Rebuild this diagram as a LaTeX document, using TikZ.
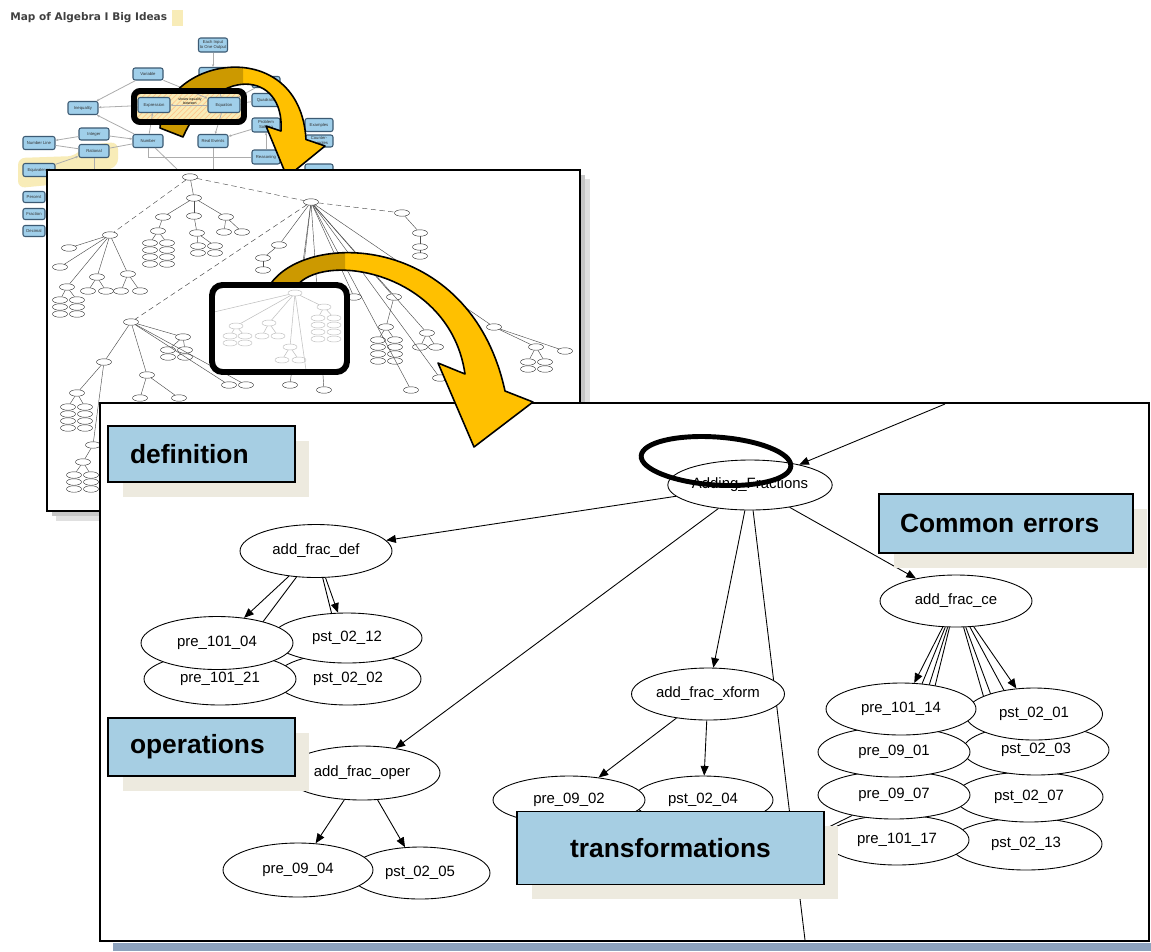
\documentclass[tikz,border=0pt]{standalone}
\usepackage{fontspec}
\setmainfont{Liberation Sans}
\newfontfamily\titlefont{DejaVu Sans}
\usetikzlibrary{arrows.meta, calc, positioning, shapes.geometric, shadows, patterns}
\definecolor{tagblue}{RGB}{166,206,227}
\definecolor{tagshade}{RGB}{237,234,223}
\definecolor{mapblue}{RGB}{160,207,234}
\definecolor{mapedge}{RGB}{60,90,115}
\definecolor{mapyellow}{RGB}{248,236,184}
\definecolor{arrowgold}{RGB}{255,192,0}
\definecolor{arrowdark}{RGB}{204,153,0}
\definecolor{barblue}{RGB}{141,162,189}
\pgfdeclarelayer{bg}
\pgfdeclarelayer{edgelayer}
\pgfsetlayers{bg,edgelayer,main}

\begin{document}
\begin{tikzpicture}[x=0.02cm, y=-0.02cm,
    mapbox/.style={draw=mapedge, fill=mapblue, rounded corners=1.2pt, line width=0.6pt, inner sep=0pt, align=center, text=black!80, font=\fontsize{2.4}{2.8}\selectfont},
    mapline/.style={draw=gray!65, line width=0.45pt},
    mini/.style={draw=black!80, ellipse, fill=white, line width=0.25pt, inner sep=0pt, minimum width=0.3cm, minimum height=0.13cm},
    miniline/.style={draw=black!70, line width=0.25pt},
    faint/.style={draw=gray!55, ellipse, fill=white, line width=0.25pt, inner sep=0pt, minimum width=0.28cm, minimum height=0.12cm},
    faintline/.style={draw=gray!50, line width=0.3pt},
    gv/.style={draw, ellipse, fill=white, line width=0.5pt, inner sep=0pt, font=\fontsize{8.5}{10}\selectfont, minimum width=3cm, minimum height=1.04cm},
    gvedge/.style={draw, line width=0.5pt, -{Triangle[length=5.5pt, width=4.5pt]}},
    gvline/.style={draw, line width=0.5pt},
    tag/.style={draw=black, line width=1pt, fill=tagblue, inner ysep=0pt, font=\fontsize{15}{18}\selectfont\bfseries,
        drop shadow={shadow xshift=0.29cm, shadow yshift=-0.29cm, fill=tagshade, opacity=1}},
    goldarrow/.style={draw=black, line width=0.9pt, line join=round}]

\begin{pgfonlayer}{bg}
    \fill[white] (0,0) rectangle (1151,951);
    \useasboundingbox (0,0) rectangle (1151,951);

    % concept map in the back
    \node[anchor=west, inner sep=0pt, text=black!75, font=\titlefont\bfseries\fontsize{6}{7}\selectfont] (title) at (10,18) {Map of Algebra I Big Ideas};
    \node[fill=mapyellow, minimum width=0.22cm, minimum height=0.32cm, inner sep=0pt] (sticky) at (177.5,18) {};

    \fill[mapyellow, rounded corners=4pt] (18,158) -- (75,156) -- (85,145) -- (118,142) -- (118,166) -- (70,183) -- (18,188) -- cycle;
    \fill[mapyellow] (134,91) rectangle (244,122);
    \fill[pattern=north east lines, pattern color=orange!45] (134,91) rectangle (244,122);

    \node[mapbox, minimum width=0.58cm, minimum height=0.28cm] (eachin) at (213,45) {Each Input\\to One Output};
    \node[mapbox, minimum width=0.56cm, minimum height=0.22cm] (func) at (213,73) {};
    \node[mapbox, minimum width=0.6cm, minimum height=0.24cm] (variable) at (148,74) {Variable};
    \node[mapbox, minimum width=0.64cm, minimum height=0.3cm] (expr) at (154,105) {Expression};
    \node[mapbox, minimum width=0.64cm, minimum height=0.3cm] (eqn) at (224,105) {Equation};
    \node[mapbox, minimum width=0.6cm, minimum height=0.26cm] (ineq) at (83,108) {Inequality};
    \node[mapbox, minimum width=0.6cm, minimum height=0.24cm] (integer) at (94,134) {Integer};
    \node[mapbox, minimum width=0.6cm, minimum height=0.26cm] (rational) at (94,151) {Rational};
    \node[mapbox, minimum width=0.64cm, minimum height=0.26cm] (numline) at (39,143) {Number Line};
    \node[mapbox, minimum width=0.6cm, minimum height=0.26cm] (number) at (148,141) {Number};
    \node[mapbox, minimum width=0.6cm, minimum height=0.26cm] (realev) at (213,141) {Real Events};
    \node[mapbox, minimum width=0.56cm, minimum height=0.22cm] (linear) at (266,82) {};
    \node[mapbox, minimum width=0.56cm, minimum height=0.26cm] (quadratic) at (266,100) {Quadratic};
    \node[mapbox, minimum width=0.56cm, minimum height=0.28cm] (probsolve) at (266,125) {Problem\\Solving};
    \node[mapbox, minimum width=0.56cm, minimum height=0.28cm] (reasoning) at (266,157) {Reasoning};
    \node[mapbox, minimum width=0.56cm, minimum height=0.26cm] (examples) at (319,125) {Examples};
    \node[mapbox, minimum width=0.56cm, minimum height=0.24cm] (counter) at (319,141) {Counter-\\examples};
    \node[mapbox, minimum width=0.56cm, minimum height=0.24cm] (extra) at (319,170) {};
    \node[mapbox, minimum width=0.64cm, minimum height=0.26cm] (equiv) at (39,170) {Equivalence};
    \node[mapbox, minimum width=0.44cm, minimum height=0.22cm] (percent) at (34,197) {Percent};
    \node[mapbox, minimum width=0.44cm, minimum height=0.22cm] (fraction) at (34,214) {Fraction};
    \node[mapbox, minimum width=0.44cm, minimum height=0.22cm] (decimal) at (34,231) {Decimal};
    \node[font=\fontsize{2}{2.4}\selectfont, align=center, inner sep=0pt] (eqlabel) at (190,101) {shows equality\\between};

    \coordinate (cmdown1) at (180,172);
    \coordinate (cmdown2) at (213,172);
    \coordinate (cmdown3) at (94,172);
    \draw[mapline, -{Stealth[length=1.6pt, width=1.3pt]}] (variable) -- (ineq);
    \draw[mapline, -{Stealth[length=1.6pt, width=1.3pt]}] (variable) -- (eqn);
    \draw[mapline, -{Stealth[length=1.6pt, width=1.3pt]}] (expr) -- (ineq);
    \draw[mapline, -{Stealth[length=1.6pt, width=1.3pt]}] (number) -- (ineq);
    \draw[mapline, -{Stealth[length=1.6pt, width=1.3pt]}] (number) -- (expr);
    \draw[mapline, -{Stealth[length=1.6pt, width=1.3pt]}] (eqn) -- (expr);
    \draw[mapline, -{Stealth[length=1.6pt, width=1.3pt]}] (integer) -- (number);
    \draw[mapline] (rational) -- (number);
    \draw[mapline, -{Stealth[length=1.6pt, width=1.3pt]}] (integer) -- (numline);
    \draw[mapline] (rational) -- (numline);
    \draw[mapline, -{Stealth[length=1.6pt, width=1.3pt]}] (equiv) -- (rational);
    \draw[mapline, -{Stealth[length=1.6pt, width=1.3pt]}] (probsolve) -- (realev);
    \draw[mapline, -{Stealth[length=1.6pt, width=1.3pt]}] (eqn) -- (realev);
    \draw[mapline, -{Stealth[length=1.6pt, width=1.3pt]}] (eachin) -- (func);
    \draw[mapline] (func) -- (eqn);
    \draw[mapline, -{Stealth[length=1.6pt, width=1.3pt]}] (reasoning) -- (probsolve);
    \draw[mapline] (number) |- (reasoning);
    \draw[mapline] (number) -- (cmdown1);
    \draw[mapline] (realev) -- (cmdown2);
    \draw[mapline] (rational) -- (cmdown3);
    \draw[mapline] (linear) -- (eqn);
    \draw[mapline] (quadratic) -- (eqn);

    % first curved arrow, hidden inside the zoom frame
    \begin{scope}
        \clip (0,0) rectangle (400,91) (0,122) rectangle (400,200) (0,91) rectangle (134,122) (244,91) rectangle (400,122);
        \fill[arrowgold] (160,128) .. controls (165,55) and (300,35) .. (306,139.5) -- (325,146) -- (287,177) -- (266,126) -- (281,131) .. controls (285,70) and (215,65) .. (183,137) -- cycle;
        \begin{scope}
            \clip (0,0) rectangle (243,200);
            \fill[arrowdark] (160,128) .. controls (165,55) and (300,35) .. (306,139.5) -- (281,131) .. controls (285,70) and (215,65) .. (183,137) -- cycle;
        \end{scope}
        \draw[goldarrow] (160,128) .. controls (165,55) and (300,35) .. (306,139.5) -- (325,146) -- (287,177) -- (266,126) -- (281,131) .. controls (285,70) and (215,65) .. (183,137) -- cycle;
    \end{scope}
    \draw[line width=3.4pt, rounded corners=3.5pt] (134,91) rectangle (244,122);

    % middle panel
    \fill[black!12] (56,179) rectangle (590,521);
    \fill[black!22] (52,175) rectangle (585,516);
    \draw[line width=1.6pt, fill=white] (47,170) rectangle (580,511);

    \foreach \nm/\x/\y in {ma/190/177, mb/194/198, mc/311/202, md/110/235, me/402/213,
        mf1/163/217, mf2/194/216, mf3/226/217, mg1/158/231, mg2/197/233, mg3/224/232, mg4/242/232,
        mh1/69/248, mh2/60/267, mh3/67/287, mh4/97/277, mh5/128/274,
        mi1/88/291, mi2/106/291, mi3/121/291, mi4/140/291,
        mj1/420/233, mj2/420/247, mj3/420/256, mk1/279/245, mk2/263/258, mk3/263/270,
        ml1/354/297, ml2/394/297, ml3/386/327, mm1/494/327, mm2/536/347, mm3/565/351,
        mn1/427/333, mn2/420/347, mn3/436/347, mo/131/322, mo1/104/362, mo2/147/375, mo3/183/337,
        mp1/140/398, mp2/179/398, mq/77/393, mr/93/445, ms/83/462,
        mt1/290/385, mt2/324/390, mt3/411/390, mt4/440/378, mu1/229/385, mu2/246/385}
        \node[mini] (\nm) at (\x,\y) {};
    \foreach \c/\x/\y/\rows in {g/150/243/4, l/378/340/4, q/68/407/4, s/74/475/3, o/168/350/2, m/528/362/2, h/60/300/3, e/198/246/2}
        \foreach \r in {1,...,\rows} {
            \node[mini] (k\c\r) at (\x,{\y+7*(\r-1)}) {};
            \node[mini] (h\c\r) at ({\x+17},{\y+7*(\r-1)}) {};
        }
    \foreach \a/\b in {ma/mb, mb/mf1, mb/mf2, mb/mf3, mf1/mg1, mf2/mg2, mf3/mg3, mf3/mg4,
        md/mh1, md/mh2, md/mh3, md/mh4, md/mh5, mh4/mi1, mh4/mi2, mh5/mi3, mh5/mi4,
        me/mj1, mj1/mj2, mj2/mj3, mc/mk1, mk1/mk2, mk2/mk3, mc/ml1, mc/ml2, ml2/ml3,
        mc/mm1, mm1/mm2, mm1/mm3, mc/mn1, mn1/mn2, mn1/mn3, mo/mo1, mo/mo2, mo/mo3,
        mo2/mp1, mo2/mp2, mo1/mq, mo1/mr, mr/ms, mc/mt1, mc/mt2, mc/mt3, mc/mt4, mo/mu1, mo/mu2,
        mg1/kg1, mg1/hg1, ml3/kl1, ml3/hl1, mq/kq1, mq/hq1, ms/ks1, ms/hs1, mo3/ko1, mo3/ho1,
        mm2/km1, mm2/hm1, mh3/kh1, mh3/hh1, mg2/ke1, mg2/he1}
        \draw[miniline] (\a) -- (\b);
    \foreach \a/\b in {ma/mc, ma/md, mc/me, mc/mo}
        \draw[miniline, densely dashed] (\a) -- (\b);
    \coordinate (zoomtop) at (299,292);
    \draw[miniline] (mc) -- (zoomtop);

    % inner zoom frame of the middle panel
    \fill[white, rounded corners=6pt] (212,285) rectangle (347,372);
    \foreach \nm/\x/\y in {fa/295/293, fb/236/326, fc/269/323, fd/324/307, fe/290/347, ff1/282/360, ff2/299/360,
        fb1/230/336, fb2/245/336, fb3/230/343, fb4/245/343, fc1/262/336, fc2/278/336,
        fd1/318/318, fd2/334/318, fd3/318/325, fd4/334/325, fd5/318/332, fd6/334/332, fd7/318/339, fd8/334/339}
        \node[faint] (\nm) at (\x,\y) {};
    \coordinate (zoomleft) at (214,312);
    \coordinate (zoombottom) at (306,370);
    \foreach \a/\b in {fa/fb, fa/fc, fa/fd, fa/fe, fe/ff1, fe/ff2, fb/fb1, fb/fb2, fc/fc1, fc/fc2, fd/fd1, fd/fd2, fa/zoomleft, fa/zoombottom}
        \draw[faintline] (\a) -- (\b);

    % front panel
    \fill[barblue] (113,943) rectangle (1151,951);
    \draw[line width=1pt, fill=white] (100,403) rectangle (1149,941);

    % second curved arrow
    \begin{scope}
        \clip (0,0) rectangle (1151,285) (0,372) rectangle (1151,951) (0,285) rectangle (212,372) (347,285) rectangle (1151,372);
        \fill[arrowgold] (268,288) .. controls (300,230) and (470,230) .. (505,391) -- (533,402) -- (474,447) -- (438,363) -- (465,374) .. controls (450,270) and (320,250) .. (295,288) -- cycle;
        \begin{scope}
            \clip (0,0) rectangle (345,951);
            \fill[arrowdark] (268,288) .. controls (300,230) and (470,230) .. (505,391) -- (465,374) .. controls (450,270) and (320,250) .. (295,288) -- cycle;
        \end{scope}
        \draw[goldarrow] (268,288) .. controls (300,230) and (470,230) .. (505,391) -- (533,402) -- (474,447) -- (438,363) -- (465,374) .. controls (450,270) and (320,250) .. (295,288) -- cycle;
    \end{scope}
    \draw[line width=3.4pt, rounded corners=6pt] (212,285) rectangle (347,372);
\end{pgfonlayer}

% front graph
\node[gv, minimum width=2.92cm, minimum height=1cm] (addfrac) at (750,485) {Adding\_Fractions};
\node[gv, minimum width=3.04cm, minimum height=1.06cm] (fdef) at (316,551) {add\_frac\_def};
\node[gv, minimum width=2.92cm, minimum height=1.04cm] (s0202) at (348,679) {pst\_02\_02};
\node[gv, minimum width=3cm, minimum height=1cm] (s0212) at (347,638) {pst\_02\_12};
\node[gv, minimum width=3.04cm, minimum height=1.04cm] (p10121) at (220,679) {pre\_101\_21};
\node[gv, minimum width=3.04cm, minimum height=1.06cm] (p10104) at (217,643) {pre\_101\_04};
\node[gv, minimum width=3.12cm, minimum height=1.08cm] (foper) at (362,773) {add\_frac\_oper};
\node[gv, minimum width=2.8cm, minimum height=1.04cm] (s0205) at (420,873) {pst\_02\_05};
\node[gv, minimum width=3cm, minimum height=1.08cm] (p0904) at (298,870) {pre\_09\_04};
\node[gv, minimum width=3.06cm, minimum height=1.04cm] (fxform) at (708,694) {add\_frac\_xform};
\node[gv, minimum width=2.8cm, minimum height=0.96cm] (s0204) at (703,800) {pst\_02\_04};
\node[gv, minimum width=3.04cm, minimum height=0.96cm] (p0902) at (569,800) {pre\_09\_02};
\node[gv, minimum width=3.04cm, minimum height=1.04cm] (fce) at (956,601) {add\_frac\_ce};
\node[gv, minimum width=3.04cm, minimum height=1.04cm] (s0213) at (1026,844) {pst\_02\_13};
\node[gv, minimum width=2.96cm, minimum height=1cm] (s0207) at (1029,797) {pst\_02\_07};
\node[gv, minimum width=2.92cm, minimum height=1cm] (s0203) at (1036,750) {pst\_02\_03};
\node[gv, minimum width=2.74cm, minimum height=1.04cm] (s0201) at (1034,714) {pst\_02\_01};
\node[gv, minimum width=2.88cm, minimum height=1cm] (p10117) at (897,840) {pre\_101\_17};
\node[gv, minimum width=3.04cm, minimum height=0.96cm] (p0907) at (894,795) {pre\_09\_07};
\node[gv, minimum width=3.04cm, minimum height=1cm] (p0901) at (894,752) {pre\_09\_01};
\node[gv, minimum width=3cm, minimum height=1.04cm] (p10114) at (901,709) {pre\_101\_14};

\coordinate (fromabove) at (945,404);
\coordinate (offbelow) at (805,940);
\coordinate (stubend) at (700,890);

\begin{pgfonlayer}{edgelayer}
    \draw[gvedge] (fromabove) -- (addfrac);
    \draw[gvedge] (addfrac) -- (fdef);
    \draw[gvedge] (addfrac) -- (foper);
    \draw[gvedge] (addfrac) -- (fxform);
    \draw[gvedge] (addfrac) -- (fce);
    \draw[gvline] (addfrac) -- (offbelow);
    \foreach \t in {p10104, p10121, s0212, s0202}
        \draw[gvedge] (fdef) -- (\t);
    \foreach \t in {p0904, s0205}
        \draw[gvedge] (foper) -- (\t);
    \foreach \t in {p0902, s0204}
        \draw[gvedge] (fxform) -- (\t);
    \foreach \t in {p10114, p0901, p0907, p10117, s0201, s0203, s0207, s0213}
        \draw[gvedge] (fce) -- (\t);
    \draw[gvline] (p0907) -- (stubend);
\end{pgfonlayer}

% highlight ring
\draw[line width=2.8pt, rotate around={-4:(716,461)}] (716,461) ellipse [x radius=1.5cm, y radius=0.48cm];

% labels
\node[tag, minimum width=3.74cm, minimum height=1.12cm, text width=2.86cm, inner xsep=0.44cm, align=left] (deftag) at (201.5,454) {definition};
\node[tag, minimum width=3.74cm, minimum height=1.16cm, text width=2.86cm, inner xsep=0.44cm, align=left] (opertag) at (201.5,747) {operations};
\node[tag, minimum width=5.08cm, minimum height=1.18cm, text width=4.24cm, inner xsep=0.42cm, align=left] (cetag) at (1006,523.5) {Common errors};
\node[tag, minimum width=6.14cm, minimum height=1.46cm, text width=5.3cm, inner xsep=0.42cm, align=center] (xformtag) at (670.5,848) {transformations};
\end{tikzpicture}
\end{document}
